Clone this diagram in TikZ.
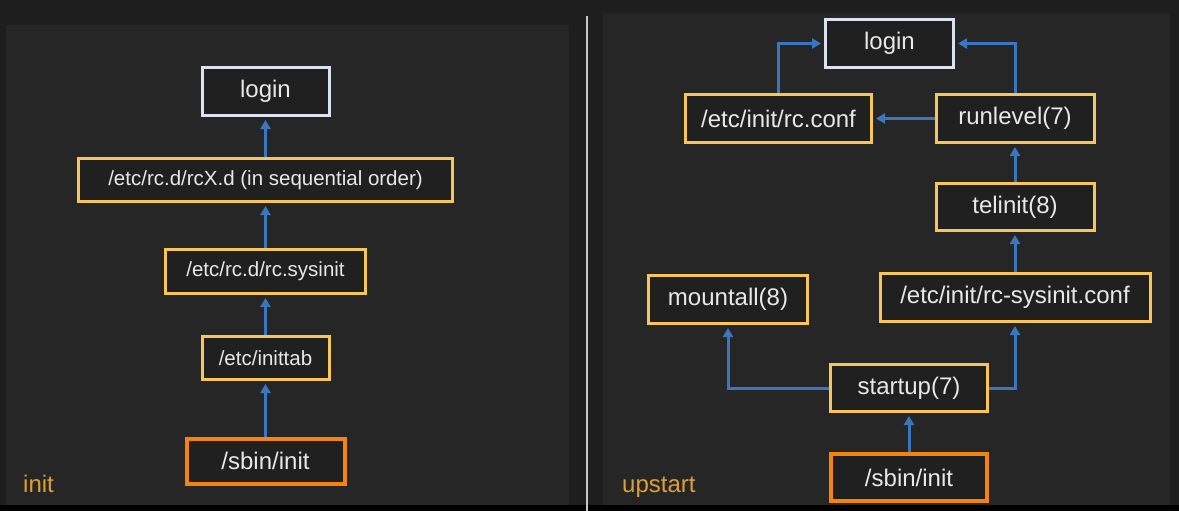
\documentclass[tikz,border=0pt]{standalone}
\usepackage{fontspec}
\setmainfont{Liberation Sans}
\usetikzlibrary{arrows.meta}

\definecolor{bgdark}{HTML}{1E1E1E}
\definecolor{panelgray}{HTML}{262626}
\definecolor{boxfill}{HTML}{202020}
\definecolor{boxtext}{HTML}{E8E8E8}
\definecolor{stepyellow}{HTML}{F7C655}
\definecolor{startorange}{HTML}{F5840C}
\definecolor{loginwhite}{HTML}{DCE3F0}
\definecolor{flowblue}{HTML}{3A76BE}
\definecolor{labelgold}{HTML}{DDA032}

\tikzset{
  stage/.style={rectangle, draw=stepyellow, line width=3pt, fill=boxfill, text=boxtext,
    inner sep=0pt, font=\fontsize{24}{28}\selectfont},
  smallstage/.style={stage, font=\fontsize{20.5}{24}\selectfont},
  loginbox/.style={stage, draw=loginwhite},
  initbox/.style={stage, draw=startorange, line width=4pt},
  flow/.style={draw=flowblue, line width=3pt, -{Triangle[width=10pt,length=9pt]}, shorten >=3pt},
  tag/.style={text=labelgold, inner sep=0pt, font=\fontsize{24}{28}\selectfont},
}

\begin{document}
\begin{tikzpicture}[x={1pt},y={-1pt}]
\useasboundingbox (0,0) rectangle (1179,511);
\fill[bgdark] (0,0) rectangle (1179,511);
\fill[black] (0,505) rectangle (1179,511);
\fill[panelgray] (6,25) rectangle (569,505);
\fill[panelgray] (603,13) rectangle (1170,505);
\draw[white!78!black, line width=2pt] (587,16) -- (587,511);

% init
\node[loginbox, minimum width=127pt, minimum height=48pt] (loginL) at (265.5,91.5) {login};
\node[smallstage, minimum width=374pt, minimum height=43pt] (rcxd) at (265.5,180) {/etc/rc.d/rcX.d (in sequential order)};
\node[smallstage, minimum width=200pt, minimum height=44pt] (sysinit) at (265.5,271.5) {/etc/rc.d/rc.sysinit};
\node[smallstage, minimum width=127pt, minimum height=43pt] (inittab) at (265.5,358) {/etc/inittab};
\node[initbox, minimum width=158pt, minimum height=45pt] (sbinL) at (265.5,461) {/sbin/init};
\node[tag, anchor=base west] (initTag) at (23,492) {init};

\draw[flow] (sbinL) -- (inittab);
\draw[flow] (inittab) -- (sysinit);
\draw[flow] (sysinit) -- (rcxd);
\draw[flow] (rcxd) -- (loginL);

% upstart
\node[loginbox, minimum width=128pt, minimum height=48pt] (loginR) at (889.5,43.5) {login};
\node[stage, minimum width=186pt, minimum height=48pt] (rcconf) at (778.5,118.5) {/etc/init/rc.conf};
\node[stage, minimum width=158pt, minimum height=48pt] (runlevel) at (1015,118.5) {runlevel(7)};
\node[stage, minimum width=158pt, minimum height=47pt] (telinit) at (1015,207) {telinit(8)};
\node[stage, minimum width=270pt, minimum height=48pt] (rcsys) at (1015,297.5) {/etc/init/rc-sysinit.conf};
\node[stage, minimum width=159pt, minimum height=48pt] (mountall) at (728,299.5) {mountall(8)};
\node[stage, minimum width=157pt, minimum height=47pt] (startup) at (909,388) {startup(7)};
\node[initbox, minimum width=156pt, minimum height=47pt] (sbinR) at (909,477.5) {/sbin/init};
\node[tag, anchor=base west] (upstartTag) at (622,492) {upstart};

\draw[flow] (sbinR) -- (startup);
\draw[flow] (startup.west) -| (mountall.south);
\draw[flow] (startup.east) -| (rcsys.south);
\draw[flow] (rcsys) -- (telinit);
\draw[flow] (telinit) -- (runlevel);
\draw[flow] (runlevel) -- (rcconf);
\draw[flow] (rcconf.north) |- (loginR.west);
\draw[flow] (runlevel.north) |- (loginR.east);

\end{tikzpicture}
\end{document}
